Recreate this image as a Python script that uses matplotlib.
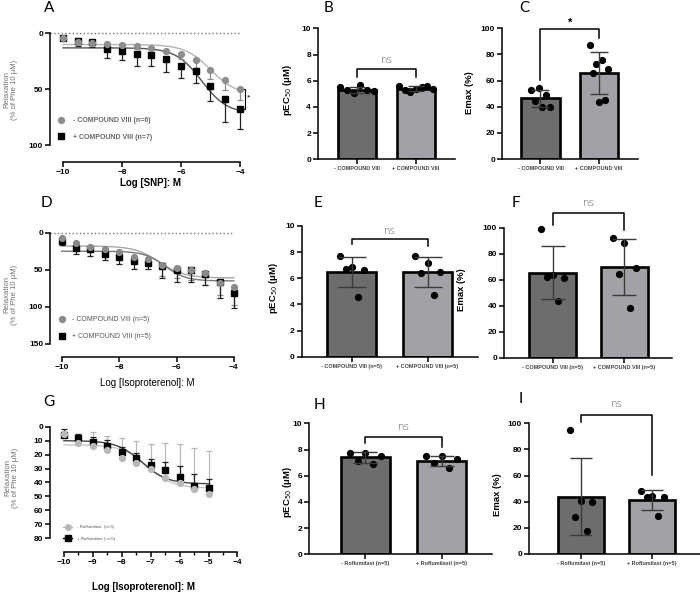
import numpy as np
import matplotlib.pyplot as plt
from matplotlib.lines import Line2D

plt.rcParams['font.family'] = ['Liberation Sans', 'DejaVu Sans']

W, H = 700, 592

# ---------------- data ----------------
# A: SNP concentration-response
log_snp = [-10, -9.5, -9, -8.5, -8, -7.5, -7, -6.5, -6, -5.5, -5, -4.5, -4]
a_minus = [3.9, 7.4, 8.3, 9.5, 10.7, 11.6, 13, 15.5, 18.8, 24, 33, 41.7, 49.4]
a_minus_err = [1, 1.5, 1.5, 2, 2, 2, 2, 2.5, 4, 7, 8, 9, 10]
a_plus = [4.5, 7, 8, 14.3, 15.8, 18.8, 19.6, 22.6, 28.9, 33.6, 47.3, 59, 67.9]
a_plus_err = [1, 4, 4, 8, 8, 10, 10, 12, 11, 11, 13, 20, 18]
# fit params: bottom, top, logEC50, hill
a_fit_minus = [10, 55, -5.0, 1.0]
a_fit_plus = [13, 72, -5.3, 1.0]

# B / C
b_labels = ['- COMPOUND VIII', '+ COMPOUND VIII']
b_mean = [5.3, 5.4]
b_sd = [0.25, 0.2]
b_pts_minus = [5.5, 5.05, 5.3, 5.3, 5.65, 5.2]
b_pts_plus = [5.6, 5.15, 5.5, 5.35, 5.3, 5.35, 5.6]
c_mean = [46.4, 65.7]
c_sd = [6.6, 16]
c_pts_minus = [53, 54, 49, 44, 40, 39.5]
c_pts_plus = [87.5, 73, 76, 68.5, 66, 43.5, 45.5]

# D: isoproterenol +/- compound VIII
log_iso = [-10, -9.5, -9, -8.5, -8, -7.5, -7, -6.5, -6, -5.5, -5, -4.5, -4]
d_minus = [6.7, 13.5, 18.9, 21.5, 26, 32.3, 35.5, 43.6, 47, 49.8, 55, 67.4, 73]
d_minus_err = [3, 5, 6, 6, 7, 9, 8, 15, 14.5, 14, 16, 17, 24]
d_plus = [11.2, 21, 22.5, 28.3, 33, 38, 41, 45, 50, 50, 55.7, 67, 81]
d_plus_err = [5.4, 7.7, 8.9, 8.5, 9, 11, 8, 16.5, 17, 16, 15, 21.5, 20]
d_fit_minus = [18, 61, -6.6, 1.0]
d_fit_plus = [25, 65, -6.4, 1.2]

# E / F
e_labels = ['- COMPOUND VIII (n=5)', '+ COMPOUND VIII (n=5)']
e_mean = [6.5, 6.5]
e_sd = [1.15, 1.15]
e_pts_minus = [7.7, 6.86, 6.6, 6.7, 4.6]
e_pts_plus = [7.7, 7.14, 6.5, 6.43, 4.7]
f_mean = [65.4, 70]
f_sd = [20.5, 21.5]
f_pts_minus = [99, 63.6, 61, 62.3, 43.6]
f_pts_plus = [91.8, 88.5, 69.2, 64.4, 38]

# G: isoproterenol +/- roflumilast
log_iso_g = [-10, -9.5, -9, -8.5, -8, -7.5, -7, -6.5, -6, -5.5, -5]
g_minus = [5.5, 12, 13.6, 16.7, 22.2, 26.3, 30.3, 36.5, 40.6, 44.9, 48.4]
g_minus_err = [2, 6, 9.5, 10, 14, 16, 18, 24.5, 28, 29.5, 31]
g_plus = [6, 8.4, 11.2, 13.8, 17.9, 22.2, 27.4, 31, 35.8, 42.2, 44.2]
g_plus_err = [4.5, 3, 4, 4, 3.5, 3.7, 4.3, 6, 7.5, 8, 7]
g_fit_minus = [13, 44, -7.1, 1.0]
g_fit_plus = [10, 41, -7.3, 1.0]

# H / I
h_labels = ['- Roflumilast (n=5)', '+ Roflumilastl (n=5)']
i_labels = ['- Roflumilast (n=5)', '+ Roflumilast (n=5)']
h_mean = [7.4, 7.1]
h_sd = [0.43, 0.38]
h_pts_minus = [7.76, 7.76, 7.5, 7.12, 6.9]
h_pts_plus = [7.5, 7.5, 7.25, 6.95, 6.6]
i_mean = [43.9, 41.3]
i_sd = [29.5, 7.3]
i_pts_minus = [94.9, 40.6, 40, 28.6, 17.9]
i_pts_plus = [48.2, 44.6, 43.4, 43.4, 29.3]

DARK_BAR = '#6d6d6d'
LIGHT_BAR = '#a2a2a6'

fig = plt.figure(figsize=(7, 5.92), dpi=100)


def px_axes(x0, y0, x1, y1):
    return fig.add_axes([x0 / W, 1 - y1 / H, (x1 - x0) / W, (y1 - y0) / H])


def ftext(x, y, s, **kw):
    fig.text(x / W, 1 - y / H, s, **kw)


def hill(p, x):
    bottom, top, ec, h = p
    return bottom + (top - bottom) / (1 + 10 ** ((ec - x) * h))


def style_axes(ax):
    for s in ['top', 'right']:
        ax.spines[s].set_visible(False)
    for s in ['left', 'bottom']:
        ax.spines[s].set_linewidth(1.1)
    ax.tick_params(width=1.1, length=3.5, labelsize=6, pad=1.5)
    for t in ax.get_xticklabels() + ax.get_yticklabels():
        t.set_fontweight('bold')


def curve_panel(rect, xlim, ylim, yticks, xticks, outward, x, ym, em, yp, ep,
                fm, fp, cm, cfm, cfp, up, x_end):
    ax = px_axes(*rect)
    ax.set_xlim(*xlim)
    ax.set_ylim(*ylim)
    xc = np.linspace(x[0], x_end, 200)
    ax.plot(xc, hill(fm, xc), color=cfm, lw=1.0, zorder=2)
    ax.plot(xc, hill(fp, xc), color=cfp, lw=1.0, zorder=2)
    zeros = np.zeros(len(x))
    if up:
        yerr_m, yerr_p = [em, zeros], [ep, zeros]
    else:
        yerr_m, yerr_p = [zeros, em], [zeros, ep]
    ax.errorbar(x, ym, yerr=yerr_m, fmt='none', ecolor=cm, elinewidth=0.9,
                capsize=2.5, capthick=0.9, zorder=3)
    ax.errorbar(x, yp, yerr=yerr_p, fmt='none', ecolor='#222222', elinewidth=0.9,
                capsize=2.5, capthick=0.9, zorder=3)
    ax.plot(x, yp, 's', color='black', ms=4.2, zorder=4)
    ax.plot(x, ym, 'o', color=cm, ms=4.2, zorder=5)
    ax.set_yticks(yticks)
    ax.set_xticks(xticks)
    ax.spines['bottom'].set_position(('outward', outward))
    ax.spines['bottom'].set_bounds(xticks[0], xticks[-1])
    ax.spines['left'].set_bounds(yticks[0], yticks[-1])
    style_axes(ax)
    return ax


def bar_panel(rect, xlim, ylim, yticks, labels, mean, sd, pts_m, pts_p,
              bracket, sig, sig_y, sig_style, spread, cap):
    ax = px_axes(*rect)
    ax.set_xlim(*xlim)
    ax.set_ylim(*ylim)
    ax.bar([0, 1], mean, width=0.65, color=[DARK_BAR, LIGHT_BAR],
           edgecolor='black', linewidth=1.9, zorder=2)
    for i, pts in enumerate([pts_m, pts_p]):
        n = len(pts)
        offs = np.linspace(-spread, spread, n)
        offs = np.concatenate([offs[::2], offs[1::2]])
        ax.plot(i + offs, pts, 'o', color='black', ms=4.2, zorder=3, clip_on=False)
    ax.errorbar([0, 1], mean, yerr=sd, fmt='none', ecolor='#3a3a3a',
                elinewidth=1.0, capsize=cap, capthick=1.0, zorder=4)
    yl, yt, yr = bracket
    ax.plot([0, 0, 1, 1], [yl, yt, yt, yr], color='black', lw=1.1,
            clip_on=False, zorder=5)
    ax.text(0.5, sig_y, sig, ha='center', va='center', clip_on=False, **sig_style)
    ax.set_xticks([0, 1])
    ax.set_xticklabels(labels)
    ax.set_yticks(yticks)
    ax.spines['left'].set_bounds(yticks[0], yticks[-1])
    style_axes(ax)
    ax.tick_params(axis='x', labelsize=4, colors='black', labelcolor='#444444')
    return ax


ns_style = dict(fontsize=7.5, color='#555555', family=['DejaVu Sans'],
                fontweight='light')
star_style = dict(fontsize=8, color='black', fontweight='bold')
letter_kw = dict(fontsize=11, family=['Lato', 'DejaVu Sans'], va='top', ha='left')
ylab_kw = dict(fontsize=5.6, color='#707070', rotation=90, ha='center',
               va='center', linespacing=1.1)
bar_ylab_kw = dict(fontsize=6.8, fontweight='bold', rotation=90, ha='center',
                   va='center')

# ---------------- A ----------------
axA = curve_panel((50, 30, 250, 145), (-10.44, -3.66), (100, -3), [0, 50, 100],
                  [-10, -8, -6, -4], 12.2, log_snp, a_minus, a_minus_err,
                  a_plus, a_plus_err, a_fit_minus, a_fit_plus, '#8e8e8e',
                  '#b4b4b4', '#555555', up=False, x_end=-4)
axA.plot([-10.44, -4], [0, 0], ':', color='#777777', lw=1.0, zorder=1)
axA.plot([-3.95, -3.83, -3.83, -3.95], [50, 50, 68, 68], color='black', lw=0.8,
         clip_on=False)
axA.text(-3.72, 58, '*', fontsize=6, ha='center', va='center', clip_on=False)
legA = [Line2D([], [], marker='o', ls='none', color='#8e8e8e', ms=4.2),
        Line2D([], [], marker='s', ls='none', color='black', ms=4.2)]
axA.legend(legA, ['- COMPOUND VIII (n=6)', '+ COMPOUND VIII (n=7)'],
           loc='upper left', bbox_to_anchor=(54 / W, 1 - 114 / H),
           bbox_transform=fig.transFigure, frameon=False, handlelength=1.0,
           handletextpad=1.2, labelspacing=1.35, borderpad=0,
           prop=dict(size=5, weight='bold'), labelcolor='#666666')
ftext(11, 90, 'Relaxation\n(% of Phe 10 \u03bcM)', **ylab_kw)
ftext(150, 183, 'Log [SNP]: M', fontsize=7, fontweight='bold', ha='center',
      va='center')

# ---------------- B ----------------
bar_panel((318, 28.3, 455, 159.3), (-0.661, 1.661), (0, 10), [0, 2, 4, 6, 8, 10],
          b_labels, b_mean, b_sd, b_pts_minus, b_pts_plus, (6.3, 6.87, 6.26),
          'ns', 7.6, ns_style, 0.28, 6)
ftext(288, 90, 'pEC$_{50}$ (\u03bcM)', **bar_ylab_kw)

# ---------------- C ----------------
bar_panel((502, 28.3, 638, 159), (-0.658, 1.667), (0, 100), [0, 20, 40, 60, 80, 100],
          b_labels, c_mean, c_sd, c_pts_minus, c_pts_plus, (60.6, 99.5, 92.9),
          '*', 104.5, star_style, 0.16, 6.5)
ftext(469, 93, 'Emax (%)', **bar_ylab_kw)

# ---------------- D ----------------
axD = curve_panel((50, 229.7, 250, 344), (-10.41, -3.44), (150, -4),
                  [0, 50, 100, 150], [-10, -8, -6, -4], 9.1, log_iso, d_minus,
                  d_minus_err, d_plus, d_plus_err, d_fit_minus, d_fit_plus,
                  '#8a8a8a', '#a8a8a8', '#777777', up=False, x_end=-4)
axD.plot([-10.41, -4], [0, 0], ':', color='#777777', lw=1.0, zorder=1)
legD = [Line2D([], [], marker='o', ls='none', color='#8a8a8a', ms=4.2),
        Line2D([], [], marker='s', ls='none', color='black', ms=4.2)]
axD.legend(legD, ['- COMPOUND VIII (n=5)', '+ COMPOUND VIII (n=5)'],
           loc='upper left', bbox_to_anchor=(55 / W, 1 - 313 / H),
           bbox_transform=fig.transFigure, frameon=False, handlelength=1.0,
           handletextpad=1.0, labelspacing=1.4, borderpad=0,
           prop=dict(size=5), labelcolor='#555555')
ftext(11, 295, 'Relaxation\n(% of Phe 10 \u03bcM)', **ylab_kw)
ftext(147, 383, 'Log [Isoproterenol]: M', fontsize=7, ha='center', va='center')

# ---------------- E ----------------
bar_panel((301.7, 226, 478, 356.7), (-0.66, 1.666), (0, 10), [0, 2, 4, 6, 8, 10],
          e_labels, e_mean, e_sd, e_pts_minus, e_pts_plus, (8.6, 8.98, 8.47),
          'ns', 9.65, ns_style, 0.16, 10)
ftext(273, 288, 'pEC$_{50}$ (\u03bcM)', **bar_ylab_kw)

# ---------------- F ----------------
bar_panel((504, 227.7, 671.7, 357.7), (-0.676, 1.66), (0, 100),
          [0, 20, 40, 60, 80, 100], e_labels, f_mean, f_sd, f_pts_minus,
          f_pts_plus, (102, 111, 98.2), 'ns', 118.7, ns_style, 0.16, 8.4)
ftext(461, 290, 'Emax (%)', **bar_ylab_kw)

# ---------------- G ----------------
axG = curve_panel((50, 423.9, 245, 538.3), (-10.48, -3.74), (80, -2),
                  list(range(0, 90, 10)), [-10, -9, -8, -7, -6, -5, -4], 9.6,
                  log_iso_g, g_minus, g_minus_err, g_plus, g_plus_err,
                  g_fit_minus, g_fit_plus, '#b8b8b8', '#c8c8c8', '#444444',
                  up=True, x_end=-5)
axG.set_xticks(np.arange(-9.5, -4, 1.0), minor=True)
axG.tick_params(which='minor', length=2.2, width=1.0)
legG = [Line2D([], [], marker='o', color='#b8b8b8', ms=4, lw=1),
        Line2D([], [], marker='s', color='black', ms=4, lw=1)]
axG.legend(legG, ['- Roflumilast  (n=5)', '+ Roflumilast ( n=5)'],
           loc='upper left', bbox_to_anchor=(61 / W, 1 - 523 / H),
           bbox_transform=fig.transFigure, frameon=False, handlelength=2.0,
           handletextpad=1.0, labelspacing=1.6, borderpad=0,
           prop=dict(size=3.2), labelcolor='#555555')
ftext(12, 478, 'Relaxation\n(% of Phe 10 \u03bcM)', **ylab_kw)
ftext(143, 587, 'Log [Isoproterenol]: M', fontsize=7, fontweight='bold',
      ha='center', va='center')

# ---------------- H ----------------
bar_panel((309.3, 423.3, 491.7, 554.3), (-0.737, 1.656), (0, 10),
          [0, 2, 4, 6, 8, 10], h_labels, h_mean, h_sd, h_pts_minus, h_pts_plus,
          (8.52, 8.98, 8.22), 'ns', 9.7, ns_style, 0.2, 8.6)
ftext(287, 492, 'pEC$_{50}$ (\u03bcM)', **bar_ylab_kw)

# ---------------- I ----------------
bar_panel((529, 423.3, 700, 554), (-0.728, 1.67), (0, 100),
          [0, 20, 40, 60, 80, 100], i_labels, i_mean, i_sd, i_pts_minus,
          i_pts_plus, (100.8, 106.4, 60.5), 'ns', 114.5, ns_style, 0.16, 8)
ftext(498, 495, 'Emax (%)', **bar_ylab_kw)

# panel letters
for lab, x, y in [('A', 44, 1), ('B', 324, 1), ('C', 519, 1),
                  ('D', 41, 196), ('E', 314, 196), ('F', 512, 196),
                  ('G', 43, 395), ('H', 314, 398), ('I', 519, 392)]:
    ftext(x, y, lab, **letter_kw)

fig.savefig('out.png', dpi=100)
